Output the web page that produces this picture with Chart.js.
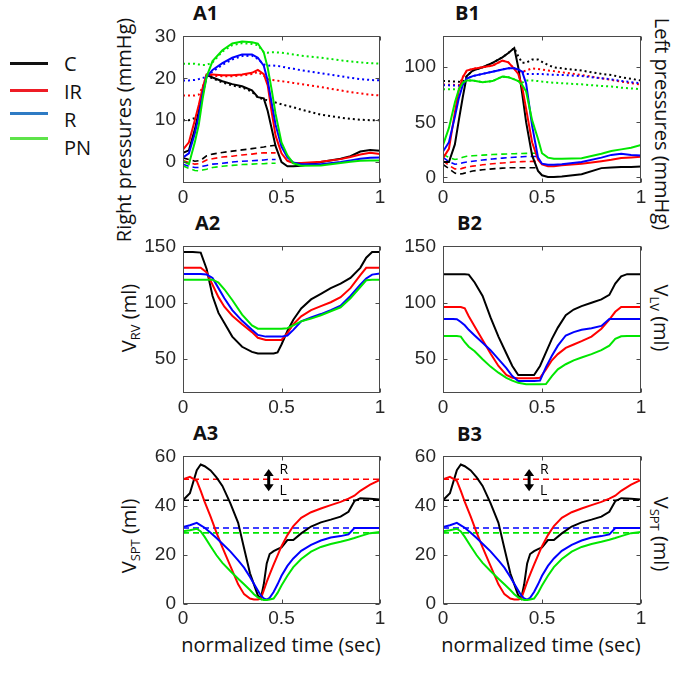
<!DOCTYPE html>
<html><head><meta charset="utf-8">
<script src="https://cdn.jsdelivr.net/npm/chart.js@4.4.1/dist/chart.umd.min.js"></script>
<style>
html,body{margin:0;padding:0;background:#fff;}
body{width:685px;height:675px;position:relative;overflow:hidden;font-family:'Open Sans',sans-serif;color:#111;}
canvas{position:absolute;}
.t{position:absolute;white-space:nowrap;font-size:20px;line-height:1;}
.c{transform:translate(-50%,-50%);}
.ccw{transform:translate(-50%,-50%) rotate(-90deg);}
.cw{transform:translate(-50%,-50%) rotate(90deg);}
.ttl{position:absolute;font-weight:700;font-size:20px;line-height:1;}
.lg{position:absolute;height:3px;left:10px;width:38px;}
sub{font-size:13px;vertical-align:-4px;line-height:0;}
</style></head><body>

<div class="lg" style="top:62px;background:#111"></div>
<div class="lg" style="top:89px;background:#ee1c25"></div>
<div class="lg" style="top:112px;background:#2e7bc4"></div>
<div class="lg" style="top:137px;background:#5ee34a"></div>
<div class="t" style="left:64px;top:54px">C</div>
<div class="t" style="left:64px;top:82px">IR</div>
<div class="t" style="left:64px;top:110px">R</div>
<div class="t" style="left:64px;top:138px">PN</div>

<div class="ttl" style="left:193px;top:3px">A1</div>
<div class="ttl" style="left:455px;top:3px">B1</div>
<div class="ttl" style="left:195px;top:213px">A2</div>
<div class="ttl" style="left:457px;top:213px">B2</div>
<div class="ttl" style="left:193px;top:423px">A3</div>
<div class="ttl" style="left:457px;top:424px">B3</div>

<div class="t ccw" style="left:124px;top:130px">Right pressures (mmHg)</div>
<div class="t ccw" style="left:129px;top:318px">V<sub>RV</sub> (ml)</div>
<div class="t ccw" style="left:129px;top:536px">V<sub>SPT</sub> (ml)</div>
<div class="t cw" style="left:662px;top:124px">Left pressures (mmHg)</div>
<div class="t cw" style="left:661px;top:318px">V<sub>LV</sub> (ml)</div>
<div class="t cw" style="left:661px;top:534px">V<sub>SPT</sub> (ml)</div>
<div class="t c" style="left:281px;top:645px">normalized time (sec)</div>
<div class="t c" style="left:541px;top:645px">normalized time (sec)</div>

<script>
// ---------- categories / series ----------
const groups = ['C', 'IR', 'R', 'PN'];
const xTicks = [0, 0.5, 1];

// A1: right pressures (solid = RV, dotted = PA, dashed = RA)
const tA1 = [0, 0.03, 0.06, 0.08, 0.1, 0.12, 0.15, 0.2, 0.25, 0.3, 0.35, 0.38, 0.41, 0.43, 0.45, 0.47, 0.5, 0.53, 0.56, 0.6, 0.7, 0.8, 0.85, 0.9, 0.95, 1];
const A1_solid_C  = [2.2, 2.8, 7.8, 12, 16.8, 20.8, 20.2, 19.3, 18.6, 18.1, 17.1, 15.5, 15.2, 12.2, 8, 3.8, 0, -1, -1, -0.9, 0, 0.8, 1.4, 2.5, 2.9, 2.7];
const A1_solid_IR = [3, 4.7, 10, 13.6, 17.8, 20.9, 20.9, 20.7, 20.7, 20.9, 21.3, 22, 21, 18.3, 12, 6.3, 2.1, 0.3, -0.2, -0.2, 0.1, 0.7, 1.2, 1.8, 2.2, 1.9];
const A1_solid_R  = [1.1, 2.1, 6.8, 11, 16.2, 20.4, 22, 23.6, 24.9, 25.7, 25.7, 24.9, 23, 19.4, 14.1, 8.9, 3.7, 1.1, -0.1, -0.5, -0.5, 0, 0.4, 0.8, 1, 1.1];
const A1_solid_PN = [0.2, -0.5, 4.7, 8.9, 15.2, 20.4, 24.1, 26.7, 28.3, 28.8, 28.6, 28.3, 26.2, 22.5, 17.3, 11.5, 4.7, 1.6, -0.3, -0.9, -0.8, -0.2, 0.1, 0.3, 0.4, 0.4];
const A1_dot_C  = [10, 10, 10.5, 12, 16.4, 20.5, 20, 19, 18.3, 17.8, 16.8, 15.4, 15, 14.7, 14.5, 14.2, 13.8, 13.4, 13.1, 12.5, 11.3, 10.6, 10.3, 10.1, 10, 10];
const A1_dot_IR = [15.9, 15.9, 15.9, 16.1, 18, 20.6, 20.6, 20.5, 20.5, 20.7, 21, 21.5, 20.6, 19.8, 19.6, 19.5, 19.3, 19.1, 18.9, 18.6, 17.9, 17.1, 16.7, 16.4, 16.1, 15.9];
const A1_dot_R  = [19.5, 19.5, 19.6, 19.8, 20.1, 20.3, 21.6, 23.2, 24.5, 25.3, 25.4, 24.6, 23.3, 23, 23.1, 23, 22.8, 22.5, 22.3, 21.9, 21.2, 20.5, 20.1, 19.8, 19.6, 19.5];
const A1_dot_PN = [23.5, 23.5, 23.5, 23.3, 23.2, 23.2, 23.8, 26.4, 27.9, 28.4, 28.2, 27.9, 26.2, 26.1, 26.2, 26.2, 26.1, 25.9, 25.7, 25.4, 24.9, 24.3, 24, 23.8, 23.6, 23.5];
const A1_dash_C  = [1, 0.6, 0.2, 0.3, 0.8, 1.5, 1.9, 2.3, 2.6, 2.9, 3.2, 3.4, 3.6, 3.8, 3.9, 4, null, null, null, null, null, null, null, null, null, null];
const A1_dash_IR = [0.4, -0.1, -0.5, -0.4, 0, 0.5, 0.8, 1.2, 1.4, 1.7, 1.9, 2.1, 2.2, 2.2, 2.2, 2.2, null, null, null, null, null, null, null, null, null, null];
const A1_dash_R  = [-0.5, -1, -1.3, -1.3, -1, -0.8, -0.5, -0.3, 0, 0.2, 0.3, 0.4, 0.5, 0.6, 0.6, 0.6, null, null, null, null, null, null, null, null, null, null];
const A1_dash_PN = [-0.9, -1.5, -2, -2.1, -1.9, -1.7, -1.3, -1, -0.8, -0.6, -0.5, -0.4, -0.4, -0.3, -0.3, -0.3, null, null, null, null, null, null, null, null, null, null];

// B1: left pressures (solid = LV, dotted = aorta, dashed = LA)
const tB1 = [0, 0.03, 0.06, 0.08, 0.1, 0.12, 0.15, 0.2, 0.25, 0.3, 0.33, 0.36, 0.38, 0.4, 0.42, 0.45, 0.48, 0.5, 0.53, 0.56, 0.6, 0.7, 0.8, 0.85, 0.9, 0.95, 1];
const B1_solid_C  = [14, 14, 30, 52, 73, 92, 97, 100, 104, 109, 113, 117.5, 100, 76, 50, 20, 6, 2, 0.5, 0.5, 1, 3, 8.5, 9, 9.5, 9.5, 10];
const B1_solid_IR = [17.6, 26, 59, 79, 91, 97, 98.5, 100, 101.5, 106, 104.4, 98.5, 94, 82, 62, 32, 16, 11.8, 10.3, 10.3, 11, 12.4, 14.7, 16, 17.6, 18.2, 18.8];
const B1_solid_R  = [23.5, 32, 55, 72, 84, 89.7, 92, 94, 96, 98, 99, 99, 98, 96, 85, 47, 18, 12.5, 11.5, 11.5, 12, 14, 18, 20.5, 21.5, 20.5, 20];
const B1_solid_PN = [29.4, 45, 68, 80, 86, 88, 88, 86.5, 87.5, 91.5, 91, 89, 87.5, 84, 78, 52, 35, 22, 18, 17, 17, 17.5, 21.5, 24, 25.5, 27, 29.4];
const B1_dot_C  = [87.6, 87.3, 87, 86.8, 86.6, 92, 97, 100, 104, 109, 113, 117.5, 110, 104, 104, 107, 107, 105, 102, 100, 99, 97, 94, 93, 91, 89.5, 88];
const B1_dot_IR = [84.4, 84.2, 84, 83.8, 91, 97, 98.5, 100, 101.5, 106, 104.4, 98.5, 96, 96, 97, 99, 98.5, 98, 97, 96.5, 95.5, 93, 90, 88.5, 87, 85.5, 84.4];
const B1_dot_R  = [83.8, 83.6, 83.4, 83.2, 84, 89.7, 92, 94, 96, 98, 99, 99, 98, 96, 94, 94, 94, 93.8, 93.5, 93.2, 93, 92, 90, 89, 87.5, 86.5, 85.3];
const B1_dot_PN = [80, 80, 80, 80.5, 86, 88, 88, 86.5, 87.5, 91.5, 91, 89, 87.5, 86, 88, 88, 87.5, 87, 86.5, 86, 85.5, 84.5, 83, 82.5, 81.5, 80.8, 80];
const B1_dash_C  = [11.8, 8, 4, 3, 3.5, 4.5, 5.9, 7, 7.8, 8.5, 8.8, 8.8, 8.8, 8.8, 8.8, 8.8, 8.8, null, null, null, null, null, null, null, null, null, null];
const B1_dash_IR = [15.3, 11, 7.8, 7.4, 8.5, 9.5, 10.3, 11.5, 12.5, 13.2, 13.6, 14, 14.2, 14.4, 14.5, 14.6, 14.7, null, null, null, null, null, null, null, null, null, null];
const B1_dash_R  = [18.2, 14.5, 12, 12.3, 13.3, 14, 14.7, 15.8, 16.8, 17.6, 18, 18.4, 18.6, 18.8, 19, 19.1, 19.1, null, null, null, null, null, null, null, null, null, null];
const B1_dash_PN = [21.2, 18, 16.3, 17, 18.3, 19.2, 19.7, 20.3, 20.8, 21.2, 21.4, 21.6, 21.7, 21.8, 21.9, 22, 22, null, null, null, null, null, null, null, null, null, null];

// A2: right ventricular volume
const tA2 = [0, 0.05, 0.09, 0.12, 0.15, 0.18, 0.21, 0.25, 0.3, 0.35, 0.38, 0.42, 0.46, 0.48, 0.5, 0.53, 0.56, 0.6, 0.65, 0.7, 0.75, 0.8, 0.85, 0.9, 0.93, 0.96, 1];
const A2_C  = [145, 145, 144.5, 130, 106, 91, 82, 70, 61, 56.5, 55, 55, 55, 56, 63, 75, 85, 95, 103, 108, 113, 117, 122, 131, 140, 145, 145];
const A2_IR = [131, 131, 131, 127, 116, 105, 96.5, 88.5, 81, 74, 69, 67, 67, 67, 67, 73, 81, 88, 93.5, 97, 100.5, 105, 113, 124.5, 131, 131, 131];
const A2_R  = [125.5, 125.5, 125.5, 125, 122, 113, 104, 93.5, 84, 76, 71.5, 70, 70, 70, 70, 71, 76, 83.5, 87, 90, 93.5, 97.5, 106, 116, 121.5, 125, 126];
const A2_PN = [120.5, 120.5, 120.5, 120.5, 120.5, 118, 112, 102.5, 89.5, 80, 77, 77, 77, 77, 77, 77.5, 80, 83.5, 86, 89, 92.5, 96, 104, 114, 120, 120.5, 120.5];

// B2: left ventricular volume
const tB2 = [0, 0.05, 0.07, 0.09, 0.11, 0.13, 0.16, 0.2, 0.24, 0.28, 0.32, 0.35, 0.38, 0.42, 0.46, 0.49, 0.52, 0.55, 0.58, 0.62, 0.66, 0.7, 0.75, 0.8, 0.84, 0.87, 0.9, 0.93, 1];
const B2_C  = [125.4, 125.4, 125.4, 125.4, 125.4, 125, 118, 106, 87, 70, 55, 44, 36, 36, 36, 44, 56, 68, 78, 89, 94, 97, 100, 103, 107, 117, 123.5, 125.4, 125.4];
const B2_IR = [96.3, 96.3, 96.3, 96.3, 95, 88, 79, 67, 55, 44, 36, 33.5, 33, 33, 33, 33.5, 41, 49, 54.5, 60, 63, 66, 70, 77, 85, 92, 96.3, 96.3, 96.3];
const B2_R  = [85.7, 85.7, 85.5, 83, 80, 76, 71, 64.5, 58, 50, 42, 35, 30.6, 30.6, 30.6, 31, 43, 53, 62, 71, 74, 76, 77.5, 79.5, 85.7, 85.7, 85.7, 85.7, 85.7];
const B2_PN = [70.6, 70.6, 70.6, 70, 65, 61, 57, 50, 43.4, 38, 33.4, 31, 29, 27.7, 27.7, 27.7, 28, 35, 41, 45.5, 49, 51.5, 54.5, 58, 62, 68, 70.3, 70.6, 70.6];

// A3 / B3: septal volume (solid) and reference levels (dashed)
const tSPT = [0, 0.035, 0.07, 0.09, 0.11, 0.14, 0.17, 0.2, 0.24, 0.28, 0.31, 0.34, 0.36, 0.38, 0.395, 0.41, 0.425, 0.44, 0.46, 0.48, 0.5, 0.53, 0.56, 0.6, 0.65, 0.7, 0.75, 0.8, 0.84, 0.87, 0.9, 0.95, 1];
const SPT_C  = [42.2, 45, 54.4, 56.7, 56, 54.3, 51.5, 48, 41, 33, 22.7, 12.5, 8, 3.5, 2.2, 8, 16.5, 20.3, 21.5, 22.3, 23, 26, 26, 28.7, 31.5, 33.2, 34.3, 35.5, 37.5, 41.8, 43, 42.8, 42.5];
const SPT_IR = [50.7, 51.7, 50, 46, 41.5, 35.5, 29, 23, 15.5, 8, 4, 2.2, 1.8, 1.8, 2.2, 5.5, 9, 12, 16, 19.8, 23.5, 28, 31.7, 35, 37.3, 38.8, 40.2, 41.5, 42.8, 44, 46, 48.5, 50.4];
const SPT_R  = [31.3, 32, 33, 32, 31, 29, 26.8, 24.5, 21.4, 17.7, 14.8, 11, 8.2, 5.5, 3.5, 2.3, 1.8, 2.5, 4.9, 8, 11.5, 15.5, 18.5, 21.6, 24, 25.8, 27, 27.6, 28.3, 30.9, 30.9, 30.9, 30.9];
const SPT_PN = [29.6, 30, 30.6, 29.5, 27.3, 23.5, 19.8, 16.7, 13.4, 10.3, 8, 5.7, 4, 2.7, 2, 1.6, 1.6, 1.8, 2.2, 4.5, 7.5, 11.5, 15, 18.3, 21.3, 23.2, 24.4, 25.3, 26.1, 26.8, 27.6, 28.8, 29.3];
const tRef = [0, 1];
const SPT_ref_C = 42.2, SPT_ref_IR = 50.7, SPT_ref_R = 30.9, SPT_ref_PN = 28.9;
const arrowMark = {x: 0.435, top: 54.9, bottom: 45.8, labelX: 0.49, rY: 54.3, lY: 46};

// ---------- styles ----------
const lineColor = {C: '#000000', IR: '#ff0000', R: '#0000ff', PN: '#00e600'};
const tickFont = {family: "'Liberation Sans', Arial, sans-serif", size: 19};
const tickColor = '#262626';

function pts(t, v) { return t.map((x, i) => ({x: x, y: v[i]})); }
function ds(t, v, g, style) {
  const d = {data: pts(t, v), borderColor: lineColor[g], borderWidth: 2, pointRadius: 0, tension: 0, fill: false, spanGaps: false};
  if (style === 'dot') { d.borderDash = [2, 3]; d.borderWidth = 2; }
  if (style === 'dash') { d.borderDash = [6, 4]; d.borderWidth = 1.6; }
  return d;
}

const boxPlugin = {
  id: 'matbox',
  afterDatasetsDraw(chart, args, opts) {
    const {ctx, chartArea: a} = chart;
    const xs = chart.scales.x, ys = chart.scales.y;
    ctx.save();
    const L = Math.round(a.left) + 0.5, R = Math.round(a.right) - 0.5, T = Math.round(a.top) + 0.5, B = Math.round(a.bottom) - 0.5;
    ctx.strokeStyle = '#4a4a4a'; ctx.lineWidth = 1;
    ctx.strokeRect(L, T, R - L, B - T);
    ctx.beginPath();
    xs.ticks.forEach(tk => {
      const p = Math.round(xs.getPixelForValue(tk.value)) + 0.5;
      ctx.moveTo(p, B); ctx.lineTo(p, B - 4);
      ctx.moveTo(p, T); ctx.lineTo(p, T + 4);
    });
    ys.ticks.forEach(tk => {
      const p = Math.round(ys.getPixelForValue(tk.value)) + 0.5;
      ctx.moveTo(L, p); ctx.lineTo(L + 4, p);
      ctx.moveTo(R, p); ctx.lineTo(R - 4, p);
    });
    ctx.stroke();
    if (opts && opts.arrow) {
      const m = opts.arrow;
      const ax = xs.getPixelForValue(m.x), y1 = ys.getPixelForValue(m.top), y2 = ys.getPixelForValue(m.bottom);
      ctx.fillStyle = '#000'; ctx.strokeStyle = '#000'; ctx.lineWidth = 3;
      ctx.beginPath(); ctx.moveTo(ax, y1 + 5); ctx.lineTo(ax, y2 - 5); ctx.stroke();
      ctx.beginPath(); ctx.moveTo(ax - 5, y1 + 7); ctx.lineTo(ax, y1); ctx.lineTo(ax + 5, y1 + 7); ctx.closePath(); ctx.fill();
      ctx.beginPath(); ctx.moveTo(ax - 5, y2 - 7); ctx.lineTo(ax, y2); ctx.lineTo(ax + 5, y2 - 7); ctx.closePath(); ctx.fill();
      ctx.font = "14px 'Open Sans', sans-serif"; ctx.textBaseline = 'middle'; ctx.textAlign = 'left';
      const lx = xs.getPixelForValue(m.labelX);
      ctx.fillText('R', lx, ys.getPixelForValue(m.rY));
      ctx.fillText('L', lx, ys.getPixelForValue(m.lY));
    }
    ctx.restore();
  }
};

function panel(box, yMin, yMax, yTicks, datasets, arrow) {
  const PL = 60, PR = 22, PT = 14, PB = 30;
  const c = document.createElement('canvas');
  const w = box.r - box.l + PL + PR, h = box.b - box.t + PT + PB;
  c.width = w; c.height = h;
  c.style.left = (box.l - PL) + 'px'; c.style.top = (box.t - PT) + 'px';
  c.style.width = w + 'px'; c.style.height = h + 'px';
  document.body.appendChild(c);
  new Chart(c, {
    type: 'line',
    data: {datasets: datasets.slice().reverse()},
    options: {
      responsive: false, animation: false, devicePixelRatio: 1,
      layout: {padding: {top: PT, right: PR, left: 0, bottom: 0}},
      plugins: {legend: {display: false}, tooltip: {enabled: false}, matbox: {arrow: arrow || null}},
      scales: {
        x: {type: 'linear', min: 0, max: 1,
            afterFit: s => { s.height = PB; },
            afterBuildTicks: s => { s.ticks = xTicks.map(v => ({value: v})); },
            grid: {display: false, drawTicks: false}, border: {display: false},
            ticks: {padding: 3, font: tickFont, color: tickColor, maxRotation: 0, autoSkip: false, callback: v => String(v)}},
        y: {type: 'linear', min: yMin, max: yMax,
            afterFit: s => { s.width = PL; },
            afterBuildTicks: s => { s.ticks = yTicks.map(v => ({value: v})); },
            grid: {display: false, drawTicks: false}, border: {display: false},
            ticks: {padding: 7, font: tickFont, color: tickColor, autoSkip: false, callback: v => String(v)}}
      }
    },
    plugins: [boxPlugin]
  });
}

// ---------- build datasets (draw order: bottom first) ----------
function pressureSets(t, dot, dash, solid) {
  const out = [];
  groups.forEach((g, i) => out.push(ds(t, dot[i], g, 'dot')));
  groups.forEach((g, i) => out.push(ds(t, dash[i], g, 'dash')));
  groups.forEach((g, i) => out.push(ds(t, solid[i], g, 'solid')));
  return out;
}
const a1Sets = pressureSets(tA1,
  [A1_dot_C, A1_dot_IR, A1_dot_R, A1_dot_PN],
  [A1_dash_C, A1_dash_IR, A1_dash_R, A1_dash_PN],
  [A1_solid_C, A1_solid_IR, A1_solid_R, A1_solid_PN]);
const b1Sets = pressureSets(tB1,
  [B1_dot_C, B1_dot_IR, B1_dot_R, B1_dot_PN],
  [B1_dash_C, B1_dash_IR, B1_dash_R, B1_dash_PN],
  [B1_solid_C, B1_solid_IR, B1_solid_R, B1_solid_PN]);
const a2Sets = [ds(tA2, A2_C, 'C'), ds(tA2, A2_IR, 'IR'), ds(tA2, A2_R, 'R'), ds(tA2, A2_PN, 'PN')];
const b2Sets = [ds(tB2, B2_C, 'C'), ds(tB2, B2_IR, 'IR'), ds(tB2, B2_R, 'R'), ds(tB2, B2_PN, 'PN')];
function sptSets() {
  const refs = [SPT_ref_C, SPT_ref_IR, SPT_ref_R, SPT_ref_PN];
  const out = [];
  groups.forEach((g, i) => out.push(ds(tRef, [refs[i], refs[i]], g, 'dash')));
  out.push(ds(tSPT, SPT_C, 'C'), ds(tSPT, SPT_IR, 'IR'), ds(tSPT, SPT_R, 'R'), ds(tSPT, SPT_PN, 'PN'));
  return out;
}

panel({l: 183, r: 380, t: 32, b: 183}, -5, 30, [0, 10, 20, 30], a1Sets);
panel({l: 443, r: 641, t: 32, b: 183}, -5, 128, [0, 50, 100], b1Sets);
panel({l: 183, r: 380, t: 242, b: 393}, 20, 150, [50, 100, 150], a2Sets);
panel({l: 443, r: 641, t: 242, b: 393}, 20, 150, [50, 100, 150], b2Sets);
panel({l: 183, r: 380, t: 452, b: 604}, 0, 60, [0, 20, 40, 60], sptSets(), arrowMark);
panel({l: 443, r: 641, t: 452, b: 604}, 0, 60, [0, 20, 40, 60], sptSets(), arrowMark);
</script>
</body></html>
